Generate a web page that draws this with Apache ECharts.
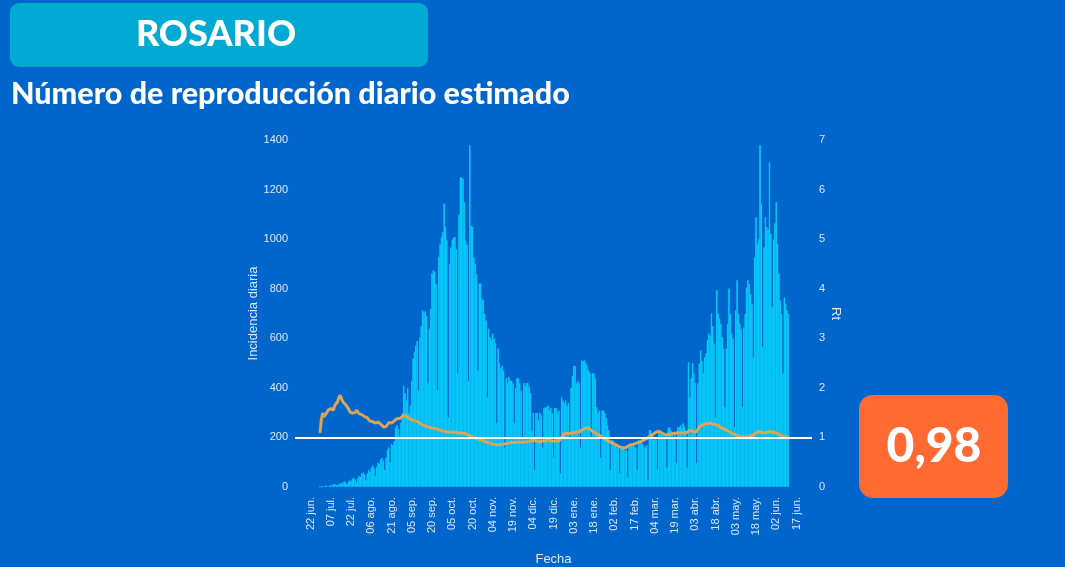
<!DOCTYPE html>
<html>
<head>
<meta charset="utf-8">
<script src="https://cdn.jsdelivr.net/npm/echarts@6/dist/echarts.min.js"></script>
<style>
html,body{margin:0;padding:0;background:#0066CC;}
#chart{width:1065px;height:567px;}
</style>
</head>
<body>
<div id="chart"></div>
<script>
// ---- Data ----
// Axis spans 2020-06-11 .. 2021-06-28 (one category per day)
const axisStart = '2020-06-11';
const axisDays = 383;
// data begins 2020-06-29 (category index 18)
const dataStartIndex = 18;

const tickLabels = ['22 jun.','07 jul.','22 jul.','06 ago.','21 ago.','05 sep.','20 sep.','05 oct.','20 oct.','04 nov.','19 nov.','04 dic.','19 dic.','03 ene.','18 ene.','02 feb.','17 feb.','04 mar.','19 mar.','03 abr.','18 abr.','03 may.','18 may.','02 jun.','17 jun.'];
const firstTickIndex = 11;
const tickStep = 15;

// Daily incidence (cases per day), one row per week starting 2020-06-29
const incidence = [
  2, 4, 3, 5, 7, 6, 4,
  6, 9, 8, 11, 13, 10, 7,
  12, 16, 14, 20, 24, 19, 13,
  22, 28, 25, 35, 38, 32, 20,
  36, 45, 42, 55, 60, 50, 30,
  55, 70, 62, 80, 88, 76, 45,
  82, 100, 95, 112, 118, 105, 70,
  120, 150, 160, 100, 175, 170, 185,
  240, 250, 235, 205, 260, 300, 410,
  380, 350, 400, 300, 330, 430, 520,
  545, 570, 590, 390, 605, 650, 714,
  705, 710, 690, 420, 640, 720, 863,
  875, 870, 820, 390, 930, 980, 1008,
  1030, 1145, 1050, 996, 282, 900, 968,
  1000, 1008, 1010, 960, 460, 1100, 1250,
  1250, 1245, 1150, 996, 980, 430, 1380,
  1056, 1050, 928, 900, 860, 472, 822,
  822, 760, 754, 700, 673, 363, 640,
  605, 593, 620, 600, 581, 258, 560,
  500, 480, 490, 470, 160, 440, 420,
  445, 430, 430, 420, 258, 400, 440,
  440, 420, 390, 200, 420, 410, 420,
  420, 405, 380, 230, 300, 70, 300,
  300, 270, 300, 290, 160, 320, 323,
  323, 330, 310, 320, 300, 120, 320,
  320, 300, 310, 56, 363, 350, 340,
  350, 330, 340, 200, 400, 450, 490,
  490, 420, 430, 420, 160, 512, 510,
  512, 500, 490, 472, 460, 200, 460,
  460, 440, 323, 300, 310, 120, 310,
  310, 300, 280, 250, 230, 70, 190,
  190, 180, 170, 160, 165, 56, 160,
  160, 155, 150, 150, 40, 160, 170,
  177, 170, 165, 160, 70, 190, 185,
  190, 175, 165, 160, 170, 28, 230,
  230, 215, 190, 200, 195, 70, 230,
  230, 220, 210, 200, 205, 80, 240,
  242, 230, 220, 200, 215, 97, 242,
  242, 250, 240, 258, 245, 230, 80,
  504, 363, 440, 500, 460, 420, 97,
  420, 500, 552, 510, 460, 524, 540,
  593, 620, 610, 702, 650, 580, 282,
  795, 700, 680, 660, 605, 560, 323,
  560, 660, 802, 700, 620, 600, 242,
  714, 835, 700, 660, 640, 323, 645,
  700, 806, 835, 820, 780, 740, 524,
  928, 1090, 980, 1000, 1380, 1145, 565,
  968, 1090, 1050, 1040, 1311, 1024, 726,
  1000, 1065, 1150, 980, 863, 754, 700,
  460, 766, 740, 714, 700
];

// Estimated daily Rt, same days
const rt = [
  1.09, 1.35, 1.49, 1.42, 1.41, 1.50, 1.55,
  1.52, 1.58, 1.61, 1.55, 1.65, 1.62, 1.72,
  1.80, 1.85, 1.78, 1.72, 1.70, 1.66, 1.62,
  1.58, 1.52, 1.50, 1.49, 1.52, 1.50, 1.55,
  1.52, 1.48, 1.50, 1.46, 1.45, 1.42, 1.41,
  1.40, 1.36, 1.33, 1.31, 1.32, 1.30, 1.29,
  1.30, 1.31, 1.30, 1.27, 1.24, 1.21, 1.19,
  1.22, 1.26, 1.30, 1.28, 1.29, 1.31, 1.33,
  1.35, 1.38, 1.36, 1.38, 1.41, 1.42, 1.44,
  1.45, 1.42, 1.40, 1.36, 1.37, 1.38, 1.35,
  1.34, 1.33, 1.32, 1.31, 1.29, 1.27, 1.25,
  1.24, 1.23, 1.22, 1.22, 1.21, 1.20, 1.19,
  1.19, 1.18, 1.18, 1.17, 1.16, 1.15, 1.14,
  1.13, 1.12, 1.12, 1.11, 1.11, 1.12, 1.11,
  1.11, 1.11, 1.10, 1.10, 1.10, 1.09, 1.09,
  1.09, 1.09, 1.08, 1.07, 1.06, 1.05, 1.04,
  1.02, 1.01, 1.00, 0.99, 0.98, 0.97, 0.96,
  0.95, 0.94, 0.93, 0.92, 0.91, 0.90, 0.89,
  0.88, 0.87, 0.86, 0.86, 0.85, 0.85, 0.85,
  0.85, 0.85, 0.86, 0.86, 0.87, 0.87, 0.88,
  0.88, 0.89, 0.89, 0.90, 0.90, 0.90, 0.91,
  0.91, 0.90, 0.90, 0.91, 0.91, 0.92, 0.91,
  0.91, 0.92, 0.93, 0.94, 0.95, 0.94, 0.93,
  0.92, 0.91, 0.91, 0.92, 0.93, 0.94, 0.93,
  0.94, 0.95, 0.94, 0.93, 0.93, 0.92, 0.92,
  0.93, 0.93, 0.93, 0.96, 1.00, 1.05, 1.08,
  1.09, 1.08, 1.07, 1.08, 1.09, 1.10, 1.09,
  1.10, 1.11, 1.12, 1.11, 1.13, 1.15, 1.17,
  1.18, 1.19, 1.19, 1.18, 1.17, 1.15, 1.12,
  1.10, 1.09, 1.08, 1.06, 1.04, 1.02, 1.00,
  0.99, 0.97, 0.95, 0.93, 0.92, 0.90, 0.89,
  0.88, 0.87, 0.85, 0.84, 0.82, 0.81, 0.80,
  0.79, 0.80, 0.79, 0.81, 0.82, 0.84, 0.85,
  0.84, 0.86, 0.87, 0.88, 0.89, 0.90, 0.91,
  0.92, 0.94, 0.95, 0.97, 0.98, 1.00, 1.01,
  1.03, 1.05, 1.07, 1.09, 1.11, 1.12, 1.11,
  1.11, 1.10, 1.08, 1.06, 1.05, 1.05, 1.06,
  1.07, 1.07, 1.08, 1.08, 1.09, 1.09, 1.08,
  1.09, 1.08, 1.09, 1.10, 1.09, 1.08, 1.10,
  1.12, 1.14, 1.15, 1.13, 1.11, 1.10, 1.12,
  1.16, 1.21, 1.24, 1.25, 1.26, 1.27, 1.28,
  1.28, 1.29, 1.29, 1.28, 1.27, 1.26, 1.26,
  1.25, 1.24, 1.22, 1.20, 1.19, 1.17, 1.16,
  1.15, 1.13, 1.12, 1.10, 1.09, 1.07, 1.06,
  1.05, 1.04, 1.03, 1.02, 1.02, 1.01, 1.01,
  1.01, 1.00, 1.01, 1.02, 1.03, 1.04, 1.05,
  1.07, 1.09, 1.11, 1.12, 1.11, 1.10, 1.09,
  1.09, 1.09, 1.10, 1.11, 1.12, 1.11, 1.11,
  1.11, 1.10, 1.09, 1.08, 1.06, 1.05, 1.04,
  1.03, 1.02, 1.01, 0.99, 0.98
];

const rtThreshold = 1;
const currentRt = '0,98';
const titleText = 'ROSARIO';
const subtitleText = 'Número de reproducción diario estimado';

// ---- Build categories ----
const categories = [];
const t0 = Date.UTC(2020, 5, 11);
for (let i = 0; i < axisDays; i++) {
  const d = new Date(t0 + i * 86400000);
  categories.push(d.toISOString().slice(0, 10));
}
const pad = new Array(dataStartIndex).fill(null);
const barData = pad.concat(incidence);
const rtData = pad.concat(rt);

const labelColor = '#DCE6F2';
const chart = echarts.init(document.getElementById('chart'), null, {renderer: 'canvas'});
chart.setOption({
  backgroundColor: '#0066CC',
  animation: false,
  grid: {left: 295, right: 253, top: 140, bottom: 80, containLabel: false, outerBoundsMode: 'none'},
  xAxis: {
    type: 'category',
    data: categories,
    boundaryGap: true,
    name: 'Fecha',
    nameLocation: 'middle',
    nameGap: 66,
    nameTextStyle: {color: labelColor, fontSize: 13, fontFamily: 'Liberation Sans'},
    axisLine: {show: false},
    axisTick: {show: false},
    axisLabel: {
      color: labelColor, fontSize: 11, fontFamily: 'Liberation Sans',
      rotate: 90, margin: 10,
      interval: function (idx) { return idx >= firstTickIndex && (idx - firstTickIndex) % tickStep === 0; },
      formatter: function (val, idx) {
        const k = (idx - firstTickIndex) / tickStep;
        return tickLabels[k] || '';
      }
    },
    splitLine: {show: false}
  },
  yAxis: [{
    type: 'value', min: 0, max: 1400, interval: 200,
    name: 'Incidencia diaria', nameLocation: 'middle', nameGap: 34,
    nameTextStyle: {color: labelColor, fontSize: 13, fontFamily: 'Liberation Sans'},
    axisLine: {show: false}, axisTick: {show: false}, splitLine: {show: false},
    axisLabel: {color: labelColor, fontSize: 11, fontFamily: 'Liberation Sans', margin: 7,
      formatter: function (v) { return String(v); }}
  }, {
    type: 'value', min: 0, max: 7, interval: 1, position: 'right',
    name: 'Rt', nameLocation: 'middle', nameGap: 16, nameRotate: -90,
    nameTextStyle: {color: labelColor, fontSize: 13, fontFamily: 'Liberation Sans'},
    axisLine: {show: false}, axisTick: {show: false}, splitLine: {show: false},
    axisLabel: {color: labelColor, fontSize: 11, fontFamily: 'Liberation Sans', margin: 7,
      formatter: function (v) { return String(v); }}
  }],
  series: [{
    type: 'bar',
    data: barData,
    yAxisIndex: 0,
    barCategoryGap: '0%',
    itemStyle: {color: '#08C8F8', borderColor: '#08C8F8', borderWidth: 1},
    silent: true,
    markLine: {
      silent: true, symbol: 'none', label: {show: false},
      lineStyle: {color: '#FFFFFF', width: 2, type: 'solid'},
      data: [{yAxis: rtThreshold * 200}]
    }
  }, {
    type: 'line',
    data: rtData,
    yAxisIndex: 1,
    symbol: 'none',
    lineStyle: {color: '#DDA458', width: 3},
    silent: true
  }],
  graphic: [
    {type: 'rect', left: 10, top: 3, shape: {width: 418, height: 64, r: 9}, style: {fill: '#00AAD2'}},
    {type: 'text', x: 216, y: 34, style: {text: titleText, fill: '#FFFFFF', font: '900 36px Lato', align: 'center', verticalAlign: 'middle'}},
    {type: 'text', x: 11, y: 94, style: {text: subtitleText, fill: '#FFFFFF', font: '900 30.5px Lato', align: 'left', verticalAlign: 'middle'}},
    {type: 'rect', left: 859, top: 395, shape: {width: 149, height: 103, r: 14}, style: {fill: '#FF6A33'}},
    {type: 'text', x: 934, y: 447, style: {text: currentRt, fill: '#FFFFFF', font: '900 48px Lato', align: 'center', verticalAlign: 'middle'}}
  ]
});
</script>
</body>
</html>
